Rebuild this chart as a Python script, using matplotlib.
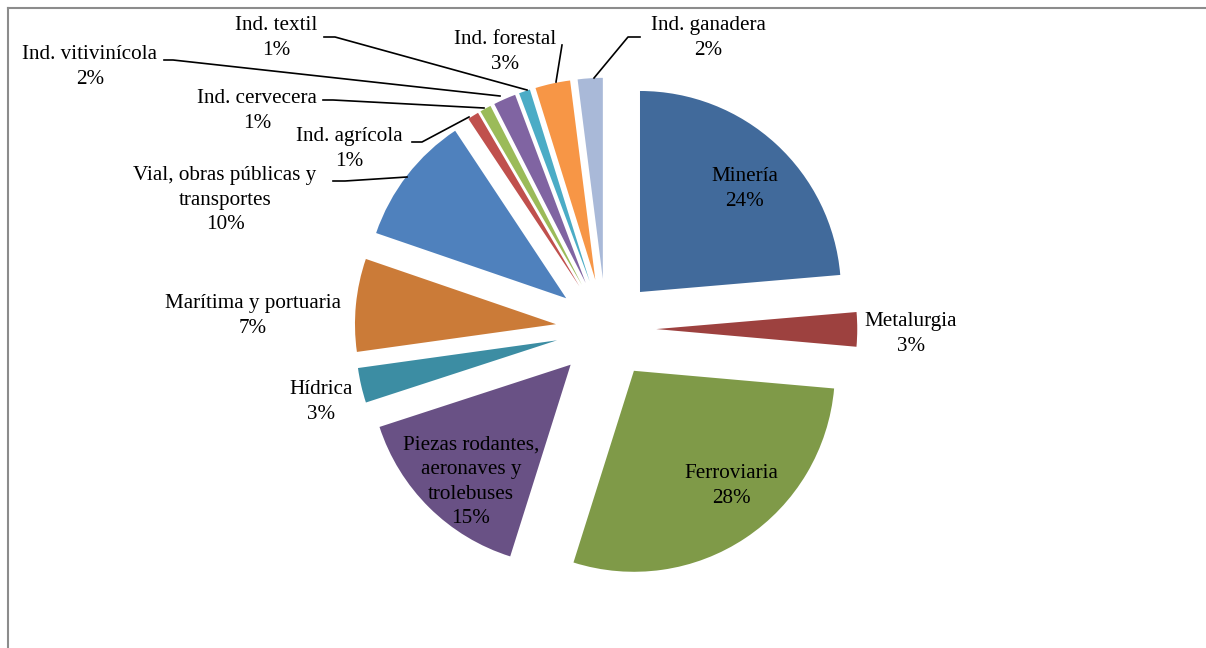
import matplotlib
matplotlib.use("Agg")
import matplotlib.pyplot as plt
from matplotlib.lines import Line2D

# ---- data ----
categories = ["Minería", "Metalurgia", "Ferroviaria",
              "Piezas rodantes,\naeronaves y\ntrolebuses", "Hídrica",
              "Marítima y portuaria", "Vial, obras públicas y\ntransportes",
              "Ind. agrícola", "Ind. cervecera", "Ind. vitivinícola",
              "Ind. textil", "Ind. forestal", "Ind. ganadera"]
values = [23.6, 2.75, 28.4, 15.1, 2.8, 7.45, 10.4, 0.9, 0.9, 1.8, 0.9, 2.8, 2.0]
colors = ["#416A9B", "#9D413F", "#7F9A48", "#695185", "#3C8DA3", "#CB7B38",
          "#4F81BD", "#C0504D", "#9BBB59", "#8064A2", "#4BACC6", "#F79646",
          "#A9B9D8"]

W, H = 1206, 648
fig = plt.figure(figsize=(W / 100, H / 100), dpi=100)
ax = fig.add_axes([0, 0, 1, 1])

plt.rcParams["font.family"] = ["Liberation Serif", "DejaVu Serif"]
FS = 15.2
R = 201

total = sum(values)
pcts = ["%d%%" % round(v / total * 100) for v in values]

wedges, _ = ax.pie(values, colors=colors, startangle=90, counterclock=False,
                   radius=R, center=(606, H - 329),
                   explode=[0.25 * R] * len(values),
                   wedgeprops=dict(linewidth=0), frame=True)
ax.set_xlim(0, W)
ax.set_ylim(0, H)
ax.set_aspect("equal")
ax.axis("off")

def Y(y):
    return H - y

# label positions (image pixel coords of the text centre) and leader lines
label_pos = {
    0: (745, 189), 1: (911, 334), 2: (731, 486), 3: (471, 482),
    4: (321, 402), 5: (253, 316), 6: (225, 200), 7: (349, 149),
    8: (257, 111), 9: (90, 67), 10: (276, 38), 11: (505, 52), 12: (708, 38),
}
for i, (x, y) in label_pos.items():
    ax.text(x, Y(y), categories[i] + "\n" + pcts[i], ha="center", va="center",
            fontsize=FS, color="black", linespacing=1.38)

leaders = [
    [(333, 181), (345, 181), (407, 177)],
    [(412, 142), (422, 142), (469, 117)],
    [(323, 100), (333, 100), (484, 108)],
    [(164, 60), (173, 60), (500, 96)],
    [(324, 37), (335, 37), (527, 90)],
    [(562, 45), (556, 82)],
    [(640, 37), (628, 37), (594, 78)],
]
for pts in leaders:
    xs = [p[0] for p in pts]
    ys = [Y(p[1]) for p in pts]
    ax.add_line(Line2D(xs, ys, color="black", linewidth=1.2))

# frame of the chart area (top and left edges visible)
ax.add_line(Line2D([8, W], [Y(8), Y(8)], color="#8c8c8c", linewidth=1.5))
ax.add_line(Line2D([8, 8], [Y(8), 0], color="#8c8c8c", linewidth=1.5))

fig.savefig("out.png", dpi=100)
